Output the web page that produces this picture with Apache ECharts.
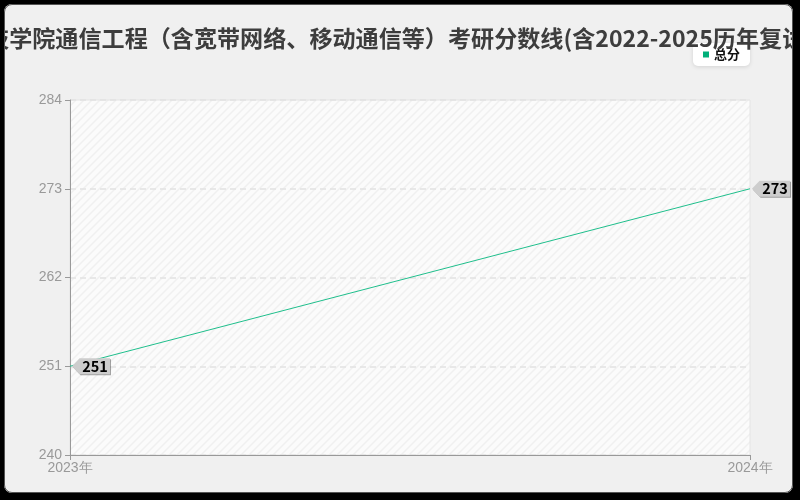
<!DOCTYPE html>
<html><head><meta charset="utf-8">
<script src="https://cdn.jsdelivr.net/npm/echarts@6/dist/echarts.min.js"></script>
<style>
html,body{margin:0;padding:0;background:#f0f0f0;width:800px;height:500px;overflow:hidden}
#chart{position:absolute;left:0;top:0;width:800px;height:500px}
#frameWrap{position:absolute;left:0;top:0;width:800px;height:500px;overflow:hidden;pointer-events:none}
#frame{position:absolute;left:4px;top:4px;right:7px;bottom:7px;border:1px solid #555;border-radius:8px;box-shadow:0 0 0 14px #000}
</style></head>
<body>
<div id="chart"></div>
<div id="frameWrap"><div id="frame"></div></div>
<script>
const titleText = '科技学院通信工程（含宽带网络、移动通信等）考研分数线(含2022-2025历年复试线)';
const categories = ['2023年', '2024年'];
const seriesName = '总分';
const totalScores = [251, 273];
const yMin = 240, yMax = 284, yStep = 11;

const pc = document.createElement('canvas');
pc.width = 8; pc.height = 8;
const g = pc.getContext('2d');
g.fillStyle = '#fbfbfb'; g.fillRect(0,0,8,8);
g.strokeStyle = '#f0f0f0'; g.lineWidth = 1.5;
g.beginPath(); g.moveTo(0,8); g.lineTo(8,0); g.moveTo(-4,4); g.lineTo(4,-4); g.moveTo(4,12); g.lineTo(12,4); g.stroke();

const chart = echarts.init(document.getElementById('chart'));
chart.setOption({
  backgroundColor: '#f0f0f0',
  animation: false,
  title: {
    text: titleText, left: 'center', top: 22,
    textStyle: {fontFamily: 'Noto Sans CJK SC', fontSize: 23.1, fontWeight: 'bold', color: '#3d3d3d'}
  },
  legend: {
    data: [seriesName], right: 50, top: 43,
    backgroundColor: '#fff', borderRadius: 5, padding: [5, 10, 5, 10],
    shadowBlur: 4, shadowColor: 'rgba(0,0,0,0.12)', shadowOffsetY: 1,
    icon: 'rect', itemWidth: 6, itemHeight: 6, itemGap: 5,
    textStyle: {fontFamily: 'Noto Sans CJK SC', fontSize: 13, fontWeight: 'bold', color: '#111'}
  },
  grid: {
    left: 70, right: 50, top: 100, bottom: 45, show: true,
    backgroundColor: {image: pc, repeat: 'repeat'}, borderColor: '#e4e4e4', borderWidth: 1
  },
  xAxis: {
    type: 'category', data: categories, boundaryGap: false,
    axisLine: {lineStyle: {color: '#999'}},
    axisTick: {show: true, length: 5, lineStyle: {color: '#999'}},
    axisLabel: {color: '#999', fontSize: 14, margin: 6},
    splitLine: {show: false}
  },
  yAxis: {
    type: 'value', min: yMin, max: yMax, interval: yStep,
    axisLine: {show: true, lineStyle: {color: '#999'}},
    axisTick: {show: true, length: 5, lineStyle: {color: '#999'}},
    axisLabel: {color: '#999', fontSize: 14, margin: 8},
    splitLine: {show: true, lineStyle: {type: [6, 4], color: '#e2e2e2', width: 1.5}}
  },
  series: [{
    name: seriesName, type: 'line', data: totalScores,
    symbol: 'none', smooth: false,
    lineStyle: {color: '#1fbf8c', width: 1},
    itemStyle: {color: '#00b07a'},
    markPoint: {
      symbol: 'path://M0,8 L8,0 L40,0 L40,16 L8,16 Z',
      symbolSize: [38, 16], symbolOffset: [21, 0],
      itemStyle: {color: '#cdcdcd', shadowColor: 'rgba(0,0,0,0.35)', shadowOffsetX: 1, shadowOffsetY: 1, shadowBlur: 0},
      label: {show: true, color: '#000', fontFamily: 'Noto Sans CJK SC', fontSize: 14.5, fontWeight: 'bold', offset: [4, 0], formatter: p => p.value},
      data: [{type: 'min'}, {type: 'max'}]
    }
  }]
});
</script>
</body></html>
